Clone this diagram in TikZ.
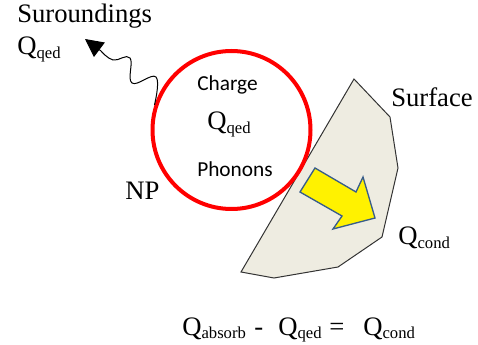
\documentclass[tikz,border=0pt]{standalone}
\usepackage{fontspec}
\setmainfont{Liberation Serif}
\newfontfamily\calfont{Carlito}
\usetikzlibrary{arrows.meta}
\definecolor{surf}{HTML}{EEECE1}
\definecolor{arrowedge}{HTML}{385D8A}
\newcommand{\sbs}[1]{\raisebox{-2.5pt}{\fontsize{12.5pt}{12.5pt}\selectfont #1}}
\begin{document}
\begin{tikzpicture}[x=0.75pt,y=-0.75pt,
  lbl/.style={inner sep=0pt, anchor=base west, font=\fontsize{20pt}{24pt}\selectfont},
  cal/.style={inner sep=0pt, anchor=base west, font=\calfont\fontsize{16pt}{19pt}\selectfont}]
\useasboundingbox (0,0) rectangle (478,345);
% surface
\coordinate (s1) at (354,79);
\coordinate (s2) at (390,117);
\coordinate (s3) at (398,168);
\coordinate (s4) at (382,237);
\coordinate (s5) at (338,267);
\coordinate (s6) at (274,278);
\coordinate (s7) at (241,272);
\draw[draw=black!80, line width=0.75pt, fill=surf] (s1)--(s2)--(s3)--(s4)--(s5)--(s6)--(s7)--cycle;
% yellow arrow
\coordinate (a1) at (315,168);
\coordinate (a2) at (356,192);
\coordinate (a3) at (363,177);
\coordinate (a4) at (375,218);
\coordinate (a5) at (333,229);
\coordinate (a6) at (342,216);
\coordinate (a7) at (300,192);
\draw[fill=yellow, draw=arrowedge, line width=1pt] (a1)--(a2)--(a3)--(a4)--(a5)--(a6)--(a7)--cycle;
% nanoparticle
\node[circle, draw=red, line width=3pt, minimum size=118.5pt, inner sep=0pt] (np) at (231.5,130) {};
% texts
\node[lbl] (sur) at (17,23) {Suroundings};
\node[lbl] (qs) at (17,55) {Q\sbs{qed}};
\node[cal] (charge) at (197,91) {Charge};
\node[lbl] (qin) at (207,130) {Q\sbs{qed}};
\node[cal] (phon) at (197,177) {Phonons};
\node[lbl] (nplbl) at (125,200) {NP};
\node[lbl] (surflbl) at (391,107) {Surface};
\node[lbl] (qcond) at (398,245) {Q\sbs{cond}};
\node[lbl] (eq1) at (182,335) {Q\sbs{absorb}};
\node[lbl] (eq2) at (254,335) {-};
\node[lbl] (eq3) at (278,335) {Q\sbs{qed}};
\node[lbl] (eq4) at (329,335) {=};
\node[lbl] (eq5) at (363,335) {Q\sbs{cond}};
% wave
\coordinate (tip) at (85,39);
\draw[line width=0.75pt, -{Triangle[length=13.5pt,width=13.5pt]}] plot[smooth, tension=0.7] coordinates {(np.162) (156,77) (132,83) (130,58) (113,60) (101,51)} -- (tip);
\end{tikzpicture}
\end{document}
